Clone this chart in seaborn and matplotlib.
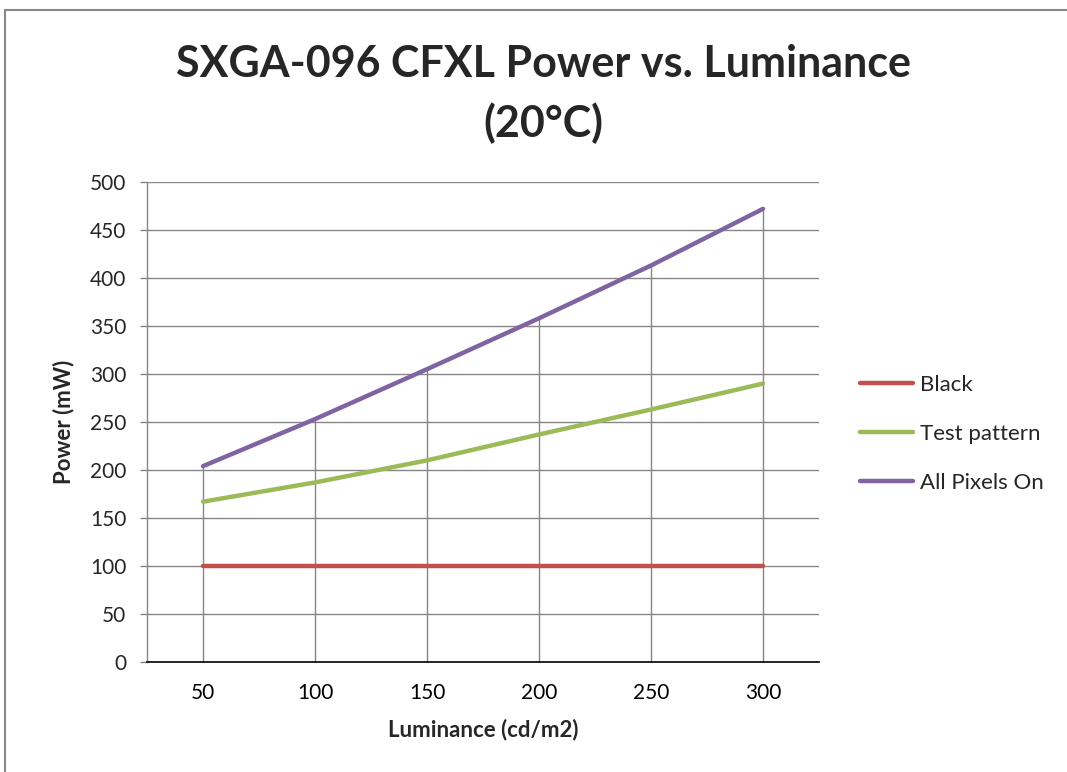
import pandas as pd
import matplotlib.pyplot as plt
import seaborn as sns
from matplotlib.lines import Line2D

# data
luminance = [50, 100, 150, 200, 250, 300]
black = [100, 100, 100, 100, 100, 100]
test_pattern = [167, 187, 210, 237, 263, 290]
all_pixels_on = [204, 253, 305, 358, 413, 472]
series_names = ["Black", "Test pattern", "All Pixels On"]
colors = ["#C0504D", "#9BBB59", "#8064A2"]
y_ticks = [0, 50, 100, 150, 200, 250, 300, 350, 400, 450, 500]

df = pd.DataFrame({
    "Luminance": luminance * 3,
    "Power": black + test_pattern + all_pixels_on,
    "Series": [series_names[0]] * 6 + [series_names[1]] * 6 + [series_names[2]] * 6,
})

sns.set_style("white")
plt.rcParams["font.family"] = ["Lato", "DejaVu Sans"]

fig = plt.figure(figsize=(10.67, 7.72), dpi=100)
ax = fig.add_axes([0.1378, 0.1425, 0.6298, 0.6218])

# horizontal gridlines
for y in y_ticks[1:]:
    ax.axhline(y, color="#868686", lw=1.0, zorder=0)

# drop lines (from highest series down to the axis)
ax.vlines(luminance, 0, all_pixels_on, color="#868686", lw=1.0, zorder=1)

sns.lineplot(data=df, x="Luminance", y="Power", hue="Series",
             palette=colors, linewidth=3.2, ax=ax, zorder=3,
             solid_capstyle="round")

ax.set_xlim(25, 325)
ax.set_ylim(0, 500)
ax.set_xticks(luminance)
ax.set_yticks(y_ticks)
ax.tick_params(axis="x", length=0, pad=15, labelsize=15, colors="#000000")
ax.tick_params(axis="y", length=5, width=1, color="#868686", pad=10,
               labelsize=15, direction="out", left=True)

for s in ["top", "right"]:
    ax.spines[s].set_visible(False)
ax.spines["left"].set_color("#868686")
ax.spines["left"].set_linewidth(1.0)
ax.spines["bottom"].set_color("#000000")
ax.spines["bottom"].set_linewidth(1.2)

ax.set_xlabel("Luminance (cd/m2)", fontsize=16, fontweight="bold")
ax.set_ylabel("Power (mW)", fontsize=16, fontweight="bold")
ax.xaxis.set_label_coords(0.5, -0.119)
ax.yaxis.set_label_coords(-0.108, 0.5)

fig.text(0.509, 0.878, "SXGA-096 CFXL Power vs. Luminance\n(20°C)",
         ha="center", va="center", fontsize=31, fontweight="bold",
         linespacing=1.52)

handles, labels = ax.get_legend_handles_labels()
ax.legend(handles, labels, loc="center left", bbox_to_anchor=(0.806, 0.438),
          bbox_transform=fig.transFigure, frameon=False, fontsize=16,
          handlelength=2.4, handletextpad=0.3, labelspacing=1.3,
          borderpad=0, borderaxespad=0)

# chart area border (top and left visible)
fig.add_artist(Line2D([0.0047, 1.0], [0.987, 0.987], color="#888888", lw=1.5))
fig.add_artist(Line2D([0.0047, 0.0047], [0.0, 0.987], color="#888888", lw=1.5))

plt.savefig("out.png", dpi=100)
